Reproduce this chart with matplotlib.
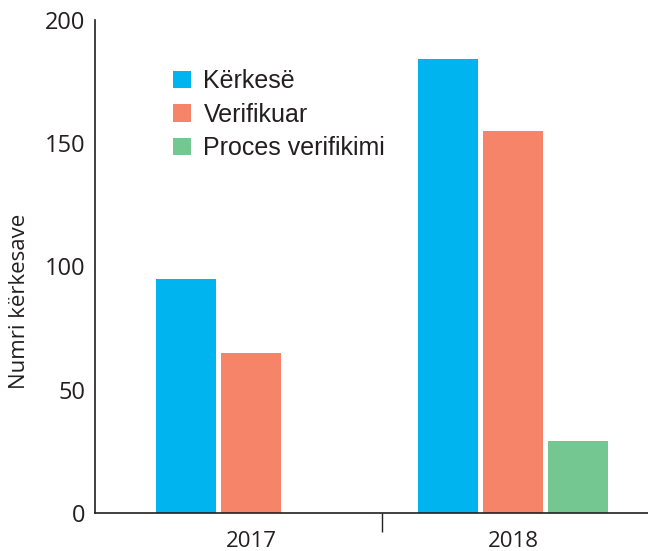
import numpy as np
import matplotlib.pyplot as plt

# number of requests per year
years = ['2017', '2018']
kerkese = [95, 184]
verifikuar = [65, 155]
proces = [0, 29]
labels = ['Kërkesë', 'Verifikuar', 'Proces verifikimi']
colors = ['#00B5EF', '#F58469', '#75C792']

ind = np.arange(len(years))
width = 0.229
step = 0.248

fig = plt.figure(figsize=(6.48, 5.51), dpi=100)
ax = fig.add_axes([0.1466, 0.069, 0.8534, 0.8947])

rects = []
for i, vals in enumerate((kerkese, verifikuar, proces)):
    rects.append(ax.bar(ind + (i - 1) * step, vals, width, color=colors[i], label=labels[i]))

ax.set_xlim(-0.595, 1.515)
ax.set_ylim(0, 200)
ax.set_yticks([0, 50, 100, 150, 200])
ax.set_xticks(ind)
ax.set_xticklabels(years)
ax.set_xticks([0.5], minor=True)

for s in ['top', 'right']:
    ax.spines[s].set_visible(False)
for s in ['left', 'bottom']:
    ax.spines[s].set_color('#231F20')
    ax.spines[s].set_linewidth(1.2)

ax.tick_params(axis='y', length=0, pad=7, labelsize=17, labelcolor='#231F20')
ax.tick_params(axis='x', which='major', length=0, pad=13, labelsize=16, labelcolor='#231F20')
ax.tick_params(axis='x', which='minor', direction='out', length=14, width=1, color='#231F20')
for t in ax.get_xticklabels() + ax.get_yticklabels():
    t.set_family('Open Sans')

ax.set_ylabel('Numri kërkesave', fontsize=16, family='Open Sans', color='#231F20')
ax.yaxis.set_label_coords(-0.118, 0.43)

leg = ax.legend(loc='upper left', bbox_to_anchor=(0.141, 0.9), frameon=False,
                borderpad=0, borderaxespad=0, handlelength=0.72, handleheight=0.72,
                handletextpad=0.5, labelspacing=0.38,
                prop={'family': 'Liberation Sans', 'size': 18})
for t in leg.get_texts():
    t.set_color('#231F20')

plt.savefig('out.png', dpi=100)
